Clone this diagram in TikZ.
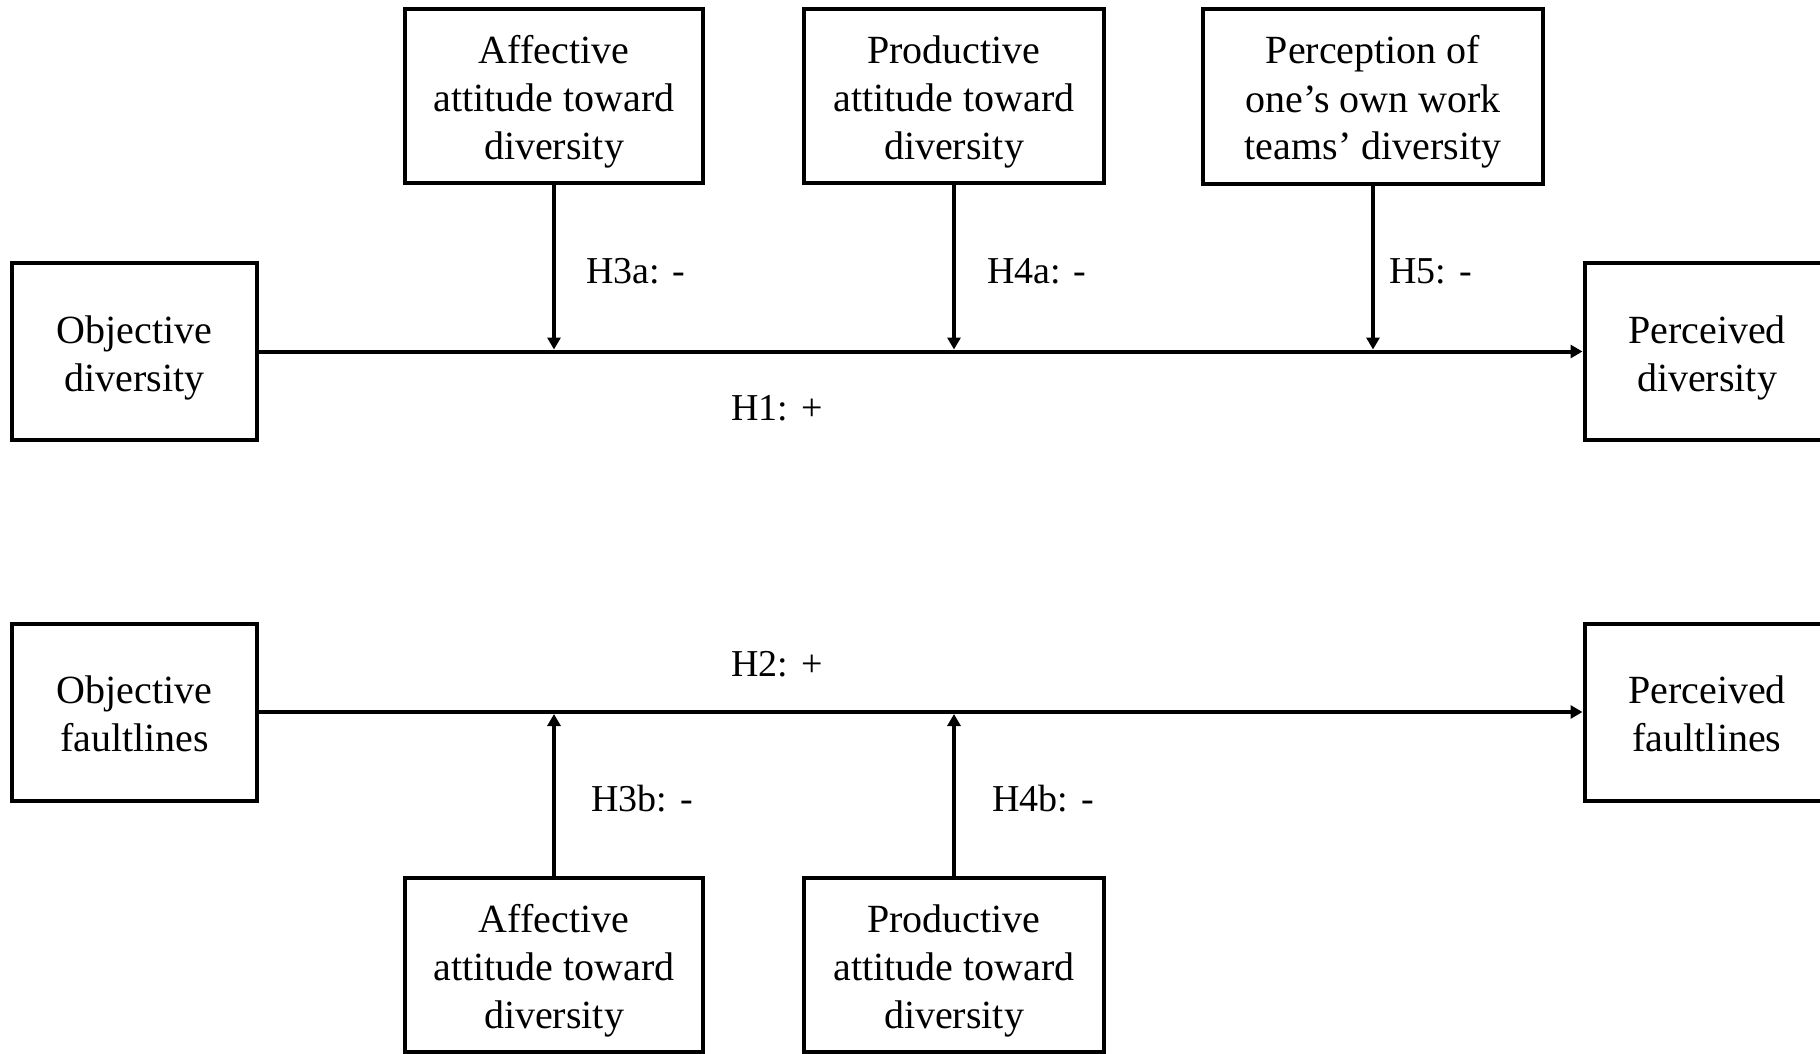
\documentclass[tikz,border=0pt]{standalone}
\usepackage{fontspec}
\setmainfont{Liberation Serif}
\usetikzlibrary{arrows.meta}
% struts that fix the height of a box's first line and the depth of its last line
\newcommand{\capstrut}{\rule{0pt}{21pt}}
\newcommand{\descstrut}{\rule[-5.5pt]{0pt}{0pt}}
\begin{document}
\begin{tikzpicture}[x=0.5pt,y=-0.5pt,
  txt/.style={font=\fontsize{20}{24}\selectfont},
  box/.style={txt,draw,line width=2pt,align=center,inner sep=0pt},
  sidebox/.style={box,minimum width=122.5pt,minimum height=88.5pt},
  modbox/.style={box,minimum width=#1,minimum height=87pt},
  lbl/.style={font=\fontsize{19}{23}\selectfont,anchor=west,inner sep=0pt},
  link/.style={line width=2pt,-{Triangle[width=6.5pt,length=6pt]}},
  modlink/.style={line width=1.8pt,-{Triangle[width=6.5pt,length=6pt]}}]
\useasboundingbox (0,0) rectangle (1820,1054);

% upper model: diversity
\node[sidebox] (od) at (134.5,351.5) {\capstrut Objective\\diversity\descstrut};
\node[sidebox] (pd) at (1707,351.5) {\capstrut Perceived\\diversity\descstrut};
\node[modbox=149pt] (a1) at (554,96) {\capstrut Affective\\attitude toward\\diversity\descstrut};
\node[modbox=150pt] (p1) at (954,96) {\capstrut Productive\\attitude toward\\diversity\descstrut};
\node[modbox=170pt] (pc) at (1373,96.5) {\capstrut Perception of\\one’s own work\\teams’ diversity\descstrut};

\draw[link] (od.east) -- (pd.west);
\coordinate (m1) at (a1.south |- od.east);
\coordinate (m2) at (p1.south |- od.east);
\coordinate (m3) at (pc.south |- od.east);
\draw[modlink] (a1.south) -- ([yshift=1pt]m1);
\draw[modlink] (p1.south) -- ([yshift=1pt]m2);
\draw[modlink] (pc.south) -- ([yshift=1pt]m3);

\node[lbl] (h3a) at (586,271) {H3a: -};
\node[lbl] (h4a) at (987,271) {H4a: -};
\node[lbl] (h5) at (1389,271) {H5: -};
\node[lbl] (h1) at (731,408) {H1: +};

% lower model: faultlines
\node[sidebox] (of) at (134.5,712) {\capstrut Objective\\faultlines\descstrut};
\node[sidebox] (pf) at (1707,712) {\capstrut Perceived\\faultlines\descstrut};
\node[modbox=149pt] (a2) at (554,964.5) {\capstrut Affective\\attitude toward\\diversity\descstrut};
\node[modbox=150pt] (p2) at (954,964.5) {\capstrut Productive\\attitude toward\\diversity\descstrut};

\draw[link] (of.east) -- (pf.west);
\coordinate (n1) at (a2.north |- of.east);
\coordinate (n2) at (p2.north |- of.east);
\draw[modlink] (a2.north) -- ([yshift=-1pt]n1);
\draw[modlink] (p2.north) -- ([yshift=-1pt]n2);

\node[lbl] (h2) at (731,664) {H2: +};
\node[lbl] (h3b) at (591,799) {H3b: -};
\node[lbl] (h4b) at (992,799) {H4b: -};
\end{tikzpicture}
\end{document}
